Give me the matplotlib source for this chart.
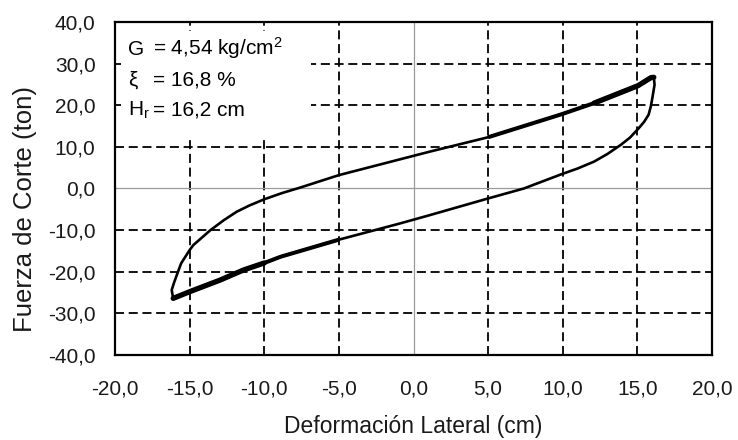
import matplotlib
matplotlib.use('Agg')
import matplotlib.pyplot as plt
from matplotlib.patches import Rectangle
from matplotlib.ticker import FuncFormatter

# hysteresis loop (cm, ton)
upper_x = [-16.1, -16.2, -16.05, -15.9, -15.57, -15.0, -14.75, -13.6, -12.7, -11.85,
           -11.0, -10.0, -8.8, -7.6, -5.0, -0.9, 1.1, 5.0, 9.9, 12.1, 15.05, 15.9, 16.1]
upper_y = [-26.4, -24.4, -22.7, -21.2, -18.0, -14.8, -13.6, -10.0, -7.6, -5.6,
           -4.1, -2.6, -1.1, 0.2, 3.2, 7.0, 8.85, 12.3, 17.8, 20.5, 24.7, 26.6, 26.7]
lower_x = [-16.1, -15.0, -12.95, -11.4, -10.0, -8.9, -5.0, -0.9, 1.1, 5.0,
           7.4, 9.9, 11.0, 12.1, 13.0, 13.9, 14.5, 15.05, 15.45, 15.75, 15.9, 16.0,
           16.15, 16.1]
lower_y = [-26.4, -24.8, -22.0, -19.6, -17.9, -16.4, -12.3, -8.4, -6.4, -2.4,
           0.0, 3.4, 4.8, 6.45, 8.3, 10.5, 12.2, 14.3, 16.0, 17.7, 19.7, 21.7,
           24.9, 26.7]

x_ticks = [-20, -15, -10, -5, 0, 5, 10, 15, 20]
y_ticks = [-40, -30, -20, -10, 0, 10, 20, 30, 40]

param_names = ['G', 'ξ', 'H$_r$']
param_values = ['= 4,54 kg/cm$^2$', '= 16,8 %', '= 16,2 cm']

plt.rcParams['font.family'] = ['Liberation Sans', 'DejaVu Sans']
plt.rcParams['mathtext.fontset'] = 'custom'
plt.rcParams['mathtext.rm'] = 'Liberation Sans'
plt.rcParams['mathtext.default'] = 'regular'

fig = plt.figure(figsize=(7.38, 4.40), dpi=100)
ax = fig.add_axes([0.1558, 0.1932, 0.809, 0.757])

ax.set_xlim(-20, 20)
ax.set_ylim(-40, 40)

# dashed grid, drawn by hand so the label box can hide part of it
grid_kw = dict(color='black', lw=1.3, dashes=(5.0, 2.6), zorder=1)
for v in x_ticks[1:-1]:
    if v != 0:
        ax.axvline(v, **grid_kw)
for v in y_ticks[1:-1]:
    if v != 0:
        ax.axhline(v, **grid_kw)
ax.axvline(0, color='#9a9a9a', lw=0.9, zorder=1)
ax.axhline(0, color='#9a9a9a', lw=0.9, zorder=1)

ax.add_patch(Rectangle((-19.6, 12.4), 12.75, 25.5, facecolor='white',
                       edgecolor='none', zorder=1.2))

# loop
ax.plot(upper_x, upper_y, color='black', lw=1.9, solid_joinstyle='round',
        solid_capstyle='round', zorder=3)
ax.plot(lower_x, lower_y, color='black', lw=1.9, solid_joinstyle='round',
        solid_capstyle='round', zorder=3)
# overlapping cycles make the branches heavier after each reversal
ax.plot(lower_x[:7], lower_y[:7], color='black', lw=2.9, solid_capstyle='butt',
        solid_joinstyle='round', zorder=3)
ax.plot(lower_x[:5], lower_y[:5], color='black', lw=3.8, solid_capstyle='round',
        solid_joinstyle='round', zorder=3)
ax.plot(upper_x[17:], upper_y[17:], color='black', lw=2.9, solid_capstyle='butt',
        solid_joinstyle='round', zorder=3)
ax.plot(upper_x[19:], upper_y[19:], color='black', lw=3.8, solid_capstyle='round',
        solid_joinstyle='round', zorder=3)

# parameter box
for i, (name, val) in enumerate(zip(param_names, param_values)):
    y = 32.1 - i * 7.3
    ax.text(-19.13, y, name, fontsize=15, va='baseline', ha='left', zorder=4)
    ax.text(-17.45, y, val, fontsize=15, va='baseline', ha='left', zorder=4)

fmt = FuncFormatter(lambda v, p: f'{v:.1f}'.replace('.', ','))
ax.set_xticks(x_ticks)
ax.set_yticks(y_ticks)
ax.xaxis.set_major_formatter(fmt)
ax.yaxis.set_major_formatter(fmt)
ax.tick_params(axis='both', direction='in', length=0, labelsize=15,
               colors='#1a1a1a')
ax.tick_params(axis='x', pad=18)
ax.tick_params(axis='y', pad=14)

for s in ax.spines.values():
    s.set_linewidth(1.6)
    s.set_color('black')
    s.set_zorder(5)

ax.set_xlabel('Deformación Lateral (cm)', fontsize=16.5, color='#1a1a1a')
ax.set_ylabel('Fuerza de Corte (ton)', fontsize=18.5, color='#1a1a1a')
ax.xaxis.set_label_coords(0.5, -0.18)
ax.yaxis.set_label_coords(-0.13, 0.437)

fig.savefig('out.png', dpi=100)
